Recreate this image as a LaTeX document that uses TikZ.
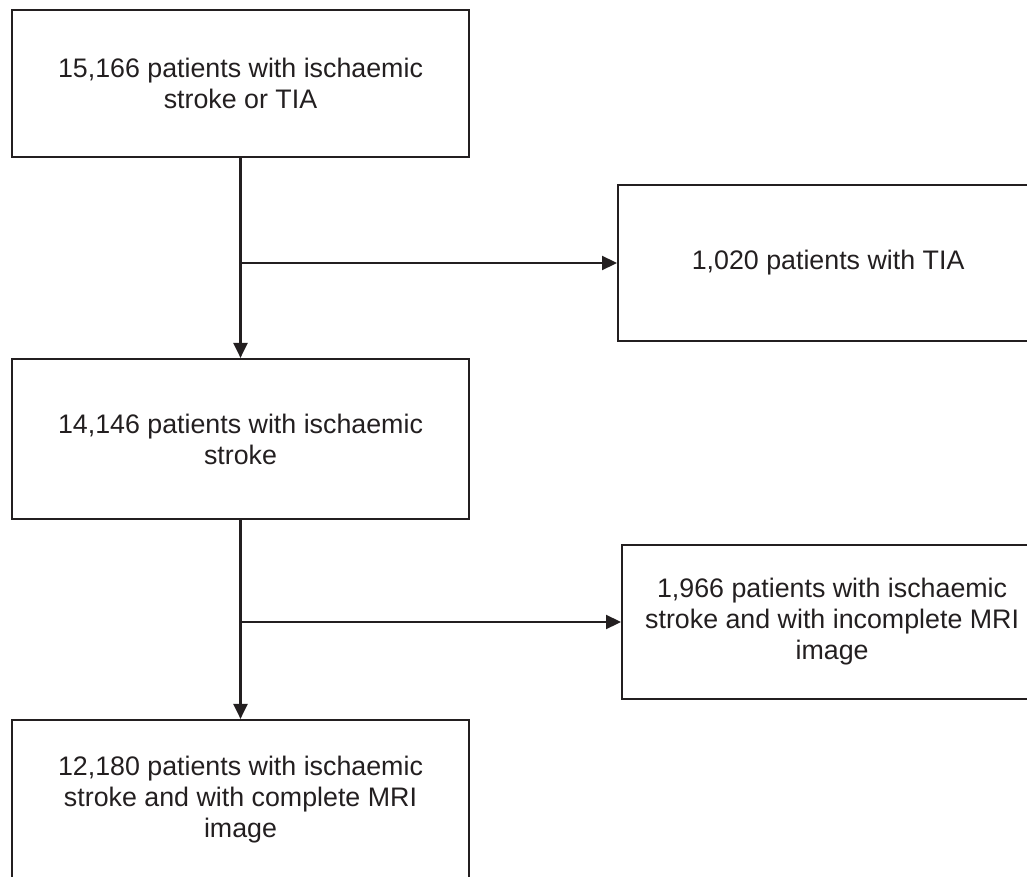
\documentclass[tikz,border=0pt]{standalone}
\usepackage{fontspec}
\setmainfont{Liberation Sans}
\usetikzlibrary{arrows.meta}
\definecolor{ink}{HTML}{231F20}
\tikzset{
  box/.style={draw=ink, line width=2.2pt, align=center, text=ink,
    minimum width=457pt, minimum height=#1, inner sep=0pt,
    font=\fontsize{26.8}{31}\selectfont},
  box/.default=150pt,
  side/.style={box=#1, minimum width=420pt},
  flow/.style={draw=ink, line width=2.2pt,
    -{Triangle[width=14pt, length=15pt]}}
}

\begin{document}
\begin{tikzpicture}[x=1pt, y=-1pt]
  \useasboundingbox (0, 0) rectangle (1027, 877);

  \node[box=147pt] at (240.5, 83.5) (all){%
    15,166 patients with ischaemic\\stroke or TIA};
  \node[box=160pt] at (240.5, 439) (stroke){%
    14,146 patients with ischaemic\\stroke};
  \node[box=160pt] at (240.5, 800) (complete){%
    12,180 patients with ischaemic\\stroke and with complete MRI\\image};

  \node[side=156pt, anchor=west] at (617, 263) (tia){%
    1,020 patients with TIA};
  \node[side=154pt, anchor=west] at (621, 622) (incomplete){%
    1,966 patients with ischaemic\\stroke and with incomplete MRI\\image};

  \draw[flow] (all.south) -- (stroke.north);
  \draw[flow] (all.south |- tia.west) -- (tia.west);

  \draw[flow] (stroke.south) -- (complete.north);
  \draw[flow] (stroke.south |- incomplete.west) -- (incomplete.west);
\end{tikzpicture}
\end{document}
